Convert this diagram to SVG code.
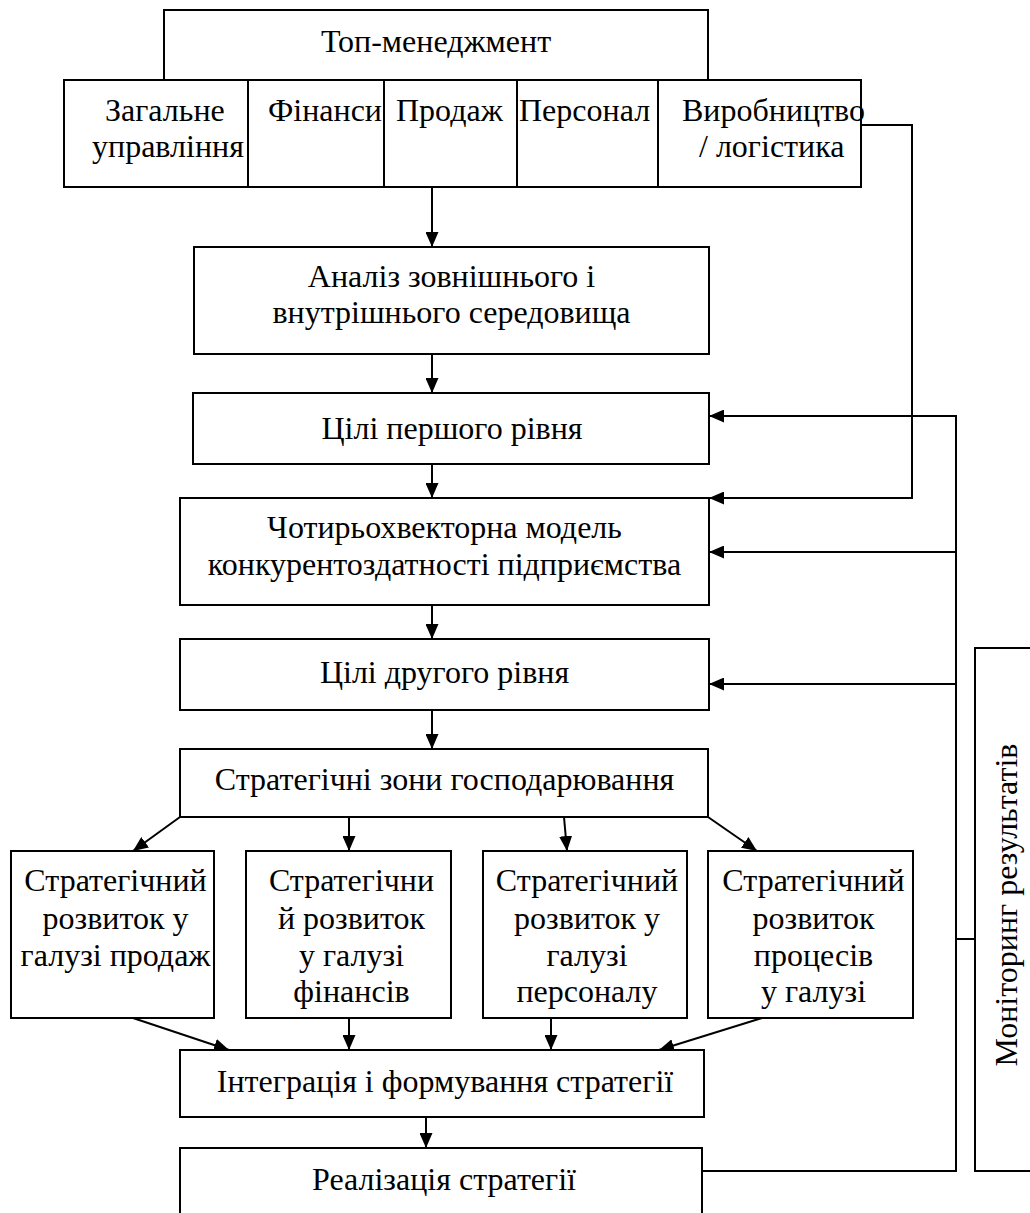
<svg xmlns="http://www.w3.org/2000/svg" width="1030" height="1213" viewBox="0 0 1030 1213">
<defs>
<style>
.b{fill:#fff;stroke:#000;stroke-width:2}
.t{font-family:"Liberation Serif","Times New Roman",serif;font-size:32px;fill:#000}
.m{text-anchor:middle}
.c{fill:none;stroke:#000;stroke-width:2}
</style>
<marker id="ah" markerWidth="15" markerHeight="13" refX="15" refY="6.5" orient="auto" markerUnits="userSpaceOnUse"><path d="M0,0 L15,6.5 L0,13 z" fill="#000"/></marker>
</defs>
<rect width="1030" height="1213" fill="#fff"/>
<g id="connectors">
<line class="c" x1="432" y1="187" x2="432" y2="247" marker-end="url(#ah)"/>
<line class="c" x1="432" y1="354" x2="432" y2="393" marker-end="url(#ah)"/>
<line class="c" x1="432" y1="464" x2="432" y2="498" marker-end="url(#ah)"/>
<line class="c" x1="432" y1="605" x2="432" y2="639" marker-end="url(#ah)"/>
<line class="c" x1="432" y1="710" x2="432" y2="749" marker-end="url(#ah)"/>
<line class="c" x1="180" y1="817" x2="133" y2="851" marker-end="url(#ah)"/>
<line class="c" x1="349" y1="817" x2="349" y2="851" marker-end="url(#ah)"/>
<line class="c" x1="564" y1="817" x2="567" y2="851" marker-end="url(#ah)"/>
<line class="c" x1="708" y1="817" x2="757" y2="851" marker-end="url(#ah)"/>
<line class="c" x1="133" y1="1018" x2="229" y2="1050" marker-end="url(#ah)"/>
<line class="c" x1="349" y1="1018" x2="349" y2="1050" marker-end="url(#ah)"/>
<line class="c" x1="551" y1="1018" x2="551" y2="1050" marker-end="url(#ah)"/>
<line class="c" x1="762" y1="1018" x2="659" y2="1050" marker-end="url(#ah)"/>
<line class="c" x1="426" y1="1117" x2="426" y2="1148" marker-end="url(#ah)"/>
<polyline class="c" points="861,125 912,125 912,498 709,498" marker-end="url(#ah)"/>
<polyline class="c" points="702,1171 956,1171 956,416 709,416" marker-end="url(#ah)"/>
<line class="c" x1="956" y1="552" x2="709" y2="552" marker-end="url(#ah)"/>
<line class="c" x1="956" y1="684" x2="709" y2="684" marker-end="url(#ah)"/>
<line class="c" x1="956" y1="939" x2="975" y2="939"/>
</g>
<g id="top-management">
<rect class="b" x="164" y="10" width="544" height="70"/>
<text class="t m" x="436" y="52">Топ-менеджмент</text>
</g>
<g id="functions">
<rect class="b" x="64" y="80" width="797" height="107"/>
<line class="c" x1="248" y1="80" x2="248" y2="187"/>
<line class="c" x1="384" y1="80" x2="384" y2="187"/>
<line class="c" x1="517" y1="80" x2="517" y2="187"/>
<line class="c" x1="658" y1="80" x2="658" y2="187"/>
<text class="t" x="105" y="121">Загальне</text>
<text class="t" x="92" y="157">управління</text>
<text class="t" x="268" y="121">Фінанси</text>
<text class="t" x="396" y="121">Продаж</text>
<text class="t" x="519" y="121">Персонал</text>
<text class="t" x="682" y="121">Виробництво</text>
<text class="t" x="699" y="157">/ логістика</text>
</g>
<g id="analysis">
<rect class="b" x="194" y="247" width="515" height="107"/>
<text class="t m" x="451.5" y="287">Аналіз зовнішнього і</text>
<text class="t m" x="451.5" y="323">внутрішнього середовища</text>
</g>
<g id="goals1">
<rect class="b" x="193" y="393" width="516" height="71"/>
<text class="t m" x="452" y="439">Цілі першого рівня</text>
</g>
<g id="model">
<rect class="b" x="180" y="498" width="529" height="107"/>
<text class="t m" x="444.5" y="538">Чотирьохвекторна модель</text>
<text class="t m" x="444.5" y="575">конкурентоздатності підприємства</text>
</g>
<g id="goals2">
<rect class="b" x="180" y="639" width="529" height="71"/>
<text class="t m" x="444.5" y="683">Цілі другого рівня</text>
</g>
<g id="zones">
<rect class="b" x="180" y="749" width="528" height="68"/>
<text class="t m" x="444.5" y="790">Стратегічні зони господарювання</text>
</g>
<g id="sales">
<rect class="b" x="11" y="851" width="203" height="167"/>
<text class="t m" x="115.5" y="891">Стратегічний</text>
<text class="t m" x="115.5" y="929">розвиток у</text>
<text class="t m" x="115.5" y="966">галузі продаж</text>
</g>
<g id="finance">
<rect class="b" x="246" y="851" width="205" height="167"/>
<text class="t m" x="351.5" y="891">Стратегічни</text>
<text class="t m" x="351.5" y="929">й розвиток</text>
<text class="t m" x="351.5" y="966">у галузі</text>
<text class="t m" x="351.5" y="1002">фінансів</text>
</g>
<g id="personnel">
<rect class="b" x="483" y="851" width="204" height="167"/>
<text class="t m" x="587" y="891">Стратегічний</text>
<text class="t m" x="587" y="929">розвиток у</text>
<text class="t m" x="587" y="966">галузі</text>
<text class="t m" x="587" y="1002">персоналу</text>
</g>
<g id="processes">
<rect class="b" x="708" y="851" width="205" height="167"/>
<text class="t m" x="813.5" y="891">Стратегічний</text>
<text class="t m" x="813.5" y="929">розвиток</text>
<text class="t m" x="813.5" y="966">процесів</text>
<text class="t m" x="813.5" y="1002">у галузі</text>
</g>
<g id="integration">
<rect class="b" x="180" y="1050" width="524" height="67"/>
<text class="t m" x="445" y="1092">Інтеграція і формування стратегії</text>
</g>
<g id="implementation">
<rect class="b" x="180" y="1148" width="522" height="80"/>
<text class="t m" x="444" y="1190">Реалізація стратегії</text>
</g>
<g id="monitoring">
<rect class="b" x="975" y="648" width="70" height="523"/>
<text class="t m" transform="translate(1017,905) rotate(-90)">Моніторинг результатів</text>
</g>
</svg>
